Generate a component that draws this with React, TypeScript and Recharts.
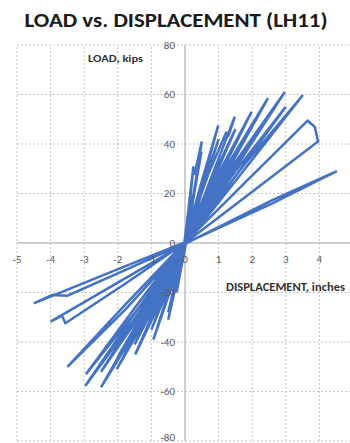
import {
  LineChart,
  Line,
  XAxis,
  YAxis,
  ReferenceLine,
  ReferenceDot,
} from 'recharts'

// displacement (inches) and load (kips), read cycle by cycle from the plot
const displacement = [
  0, 0.13, 0.25, 0.13, 0.03, -0.12, -0.25, -0.13, -0.02, // 0.25 in
  0.24, 0.29, 0.5, 0.26, 0.04, -0.26, -0.5, -0.26, -0.03, // 0.5 in
  0.25, 0.49, 0.25, 0.04, -0.25, -0.5, -0.25, -0.03,
  0.5, 0.99, 0.5, 0.06, -0.47, -0.94, -0.47, -0.05, // 1.0 in
  0.5, 1.0, 0.5, 0.06, -0.5, -1.0, -0.5, -0.05,
  0.7, 1.22, 1.3, 1.48, 0.74, 0.07, -0.74, -1.48, -0.74, -0.06, // 1.5 in
  0.75, 1.5, 0.75, 0.07, -0.75, -1.5, -0.75, -0.06,
  0.99, 1.98, 0.99, 0.08, -1.01, -2.03, -1.01, -0.07, // 2.0 in
  1.0, 2.0, 1.0, 0.08, -1.0, -2.0, -1.0, -0.07,
  1.24, 2.47, 1.24, 0.09, -1.25, -2.5, -1.25, -0.08, // 2.5 in
  1.25, 2.5, 1.25, 0.09, -1.25, -2.5, -1.25, -0.08,
  1.49, 2.97, 1.49, 0.1, -1.49, -2.97, -1.49, -0.09, // 3.0 in
  1.5, 3.0, 1.5, 0.1, -1.48, -2.95, -1.48, -0.09,
  1.76, 3.51, 1.76, 0.1, -1.75, -3.5, -1.75, -0.09, // 3.5 in
  1.83, 3.65, 3.86, 3.96, 1.98, 0.1, -1.78, -3.56, -3.66, -4.0, -2.0, -0.09, // 4.0 in
  2.6, 4.52, 2.6, 0.1, -1.75, -3.5, -3.96, -4.5, -2.25, -0.05, // 4.5 in
]

const load = [
  0, 17, 31, 14, 0, -10.5, -20, -9, 0,
  28.5, 28, 41, 20, 1, -16.5, -31, -15, -1,
  19.5, 37, 18, 1, -15, -28, -13.5, -1,
  25, 47.5, 23, 1, -20.5, -39, -19, -1,
  22, 42, 20.5, 1, -18.5, -35, -17, -1,
  28, 44.5, 43.5, 51, 25, 1, -24, -45, -22, -1,
  24.5, 46, 22.5, 1, -21.5, -41, -20, -1,
  28, 53, 26, 1, -27, -51, -25, -1,
  25.5, 48, 23.5, 1, -24.5, -46, -22.5, -1,
  31, 58.5, 28.5, 1, -31, -58.3, -28.5, -1,
  27.5, 52, 25.5, 1, -27.5, -52, -25.5, -1,
  32.5, 61, 30, 1, -30.5, -57.8, -28.5, -1,
  29, 55, 27, 1, -28, -53, -26, -1,
  31.5, 59.8, 29.5, 1, -26.5, -50, -24.5, -1,
  25, 49.4, 47, 41, 20.5, 1, -16.5, -32.4, -29.4, -31.8, -16, -1,
  17.3, 29, 16, 0.5, -10.8, -21.3, -21, -24.4, -12, 0,
]

const xTicks = [-5, -4, -3, -2, -1, 0, 1, 2, 3, 4, 5]
const yTicks = [-80, -60, -40, -20, 0, 20, 40, 60, 80]
const xTickLabels = ['-5', '-4', '-3', '-2', '-1', '0', '1', '2', '3', '4']

const data = displacement.map((x, i) => ({ x, y: load[i] }))

const labelFont = 'Calibri, "Open Sans", "Noto Sans", sans-serif'
const gridColor = '#c4c4c4'

export default function App() {
  return (
    <div
      style={{
        position: 'fixed',
        left: 0,
        top: 0,
        width: 350,
        height: 443,
        overflow: 'hidden',
        background: '#fff',
      }}
    >
      <div style={{ position: 'absolute', left: 0, top: 0 }}>
        <LineChart
          width={370}
          height={443}
          data={data}
          margin={{ top: 45, left: 17, right: 17, bottom: 2 }}
        >
          <XAxis
            dataKey="x"
            type="number"
            domain={[-5, 5]}
            ticks={xTicks}
            tick={false}
            tickLine={false}
            axisLine={false}
            height={0}
          />
          <YAxis
            type="number"
            domain={[-80, 80]}
            ticks={yTicks}
            tick={false}
            tickLine={false}
            axisLine={false}
            width={0}
          />
          {xTicks
            .filter((t) => t !== 0)
            .map((t) => (
              <ReferenceLine key={'gx' + t} x={t} stroke={gridColor} strokeDasharray="2 2" />
            ))}
          {yTicks
            .filter((t) => t !== 0)
            .map((t) => (
              <ReferenceLine key={'gy' + t} y={t} stroke={gridColor} strokeDasharray="2 2" />
            ))}
          <ReferenceLine x={0} stroke="#bfbfbf" strokeWidth={1.5} />
          <ReferenceLine y={0} stroke="#bfbfbf" strokeWidth={1.5} />
          {xTickLabels.map((t) => (
            <ReferenceDot
              key={'x' + t}
              x={Number(t)}
              y={0}
              r={0}
              fill="none"
              stroke="none"
              label={{
                value: t,
                position: 'bottom',
                offset: 12,
                fill: '#595959',
                fontSize: 11,
                fontFamily: labelFont,
              }}
            />
          ))}
          {yTicks.map((t) => (
            <ReferenceDot
              key={'y' + t}
              x={0}
              y={t}
              r={0}
              fill="none"
              stroke="none"
              label={{
                value: String(t),
                position: 'left',
                offset: 10,
                dy: t === -80 ? -4 : 0,
                fill: '#595959',
                fontSize: 11,
                fontFamily: labelFont,
              }}
            />
          ))}
          <Line
            type="linear"
            dataKey="y"
            stroke="#4472c4"
            strokeWidth={2.5}
            dot={false}
            isAnimationActive={false}
          />
        </LineChart>
      </div>
      <svg
        width={350}
        height={443}
        style={{ position: 'absolute', left: 0, top: 0, pointerEvents: 'none' }}
      >
        <text
          x={176}
          y={27}
          textAnchor="middle"
          fontFamily={labelFont}
          fontWeight={700}
          fontSize={20}
          fill="#1a1a1a"
          textLength={303}
          lengthAdjust="spacingAndGlyphs"
        >
          LOAD vs. DISPLACEMENT (LH11)
        </text>
        <text
          x={88}
          y={62}
          fontFamily={labelFont}
          fontWeight={700}
          fontSize={10.5}
          fill="#333"
          textLength={55}
          lengthAdjust="spacingAndGlyphs"
        >
          LOAD, kips
        </text>
        <text
          x={226}
          y={291}
          fontFamily={labelFont}
          fontWeight={700}
          fontSize={11}
          fill="#333"
          textLength={119}
          lengthAdjust="spacingAndGlyphs"
        >
          DISPLACEMENT, inches
        </text>
      </svg>
    </div>
  )
}
